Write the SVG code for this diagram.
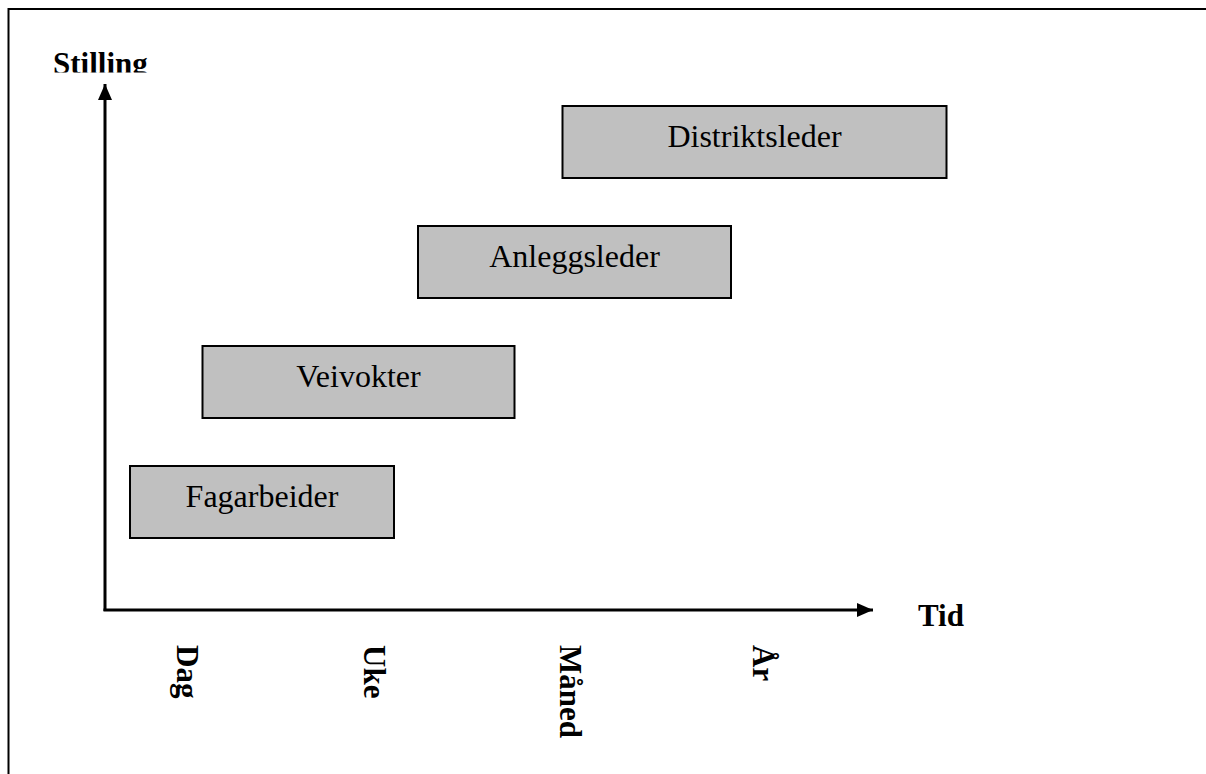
<svg xmlns="http://www.w3.org/2000/svg" width="1206" height="774" viewBox="0 0 1206 774">
  <style>
    .frame { fill: none; stroke: #000; stroke-width: 2; }
    .axis { fill: none; stroke: #000; stroke-width: 3; }
    .box rect { fill: #c0c0c0; stroke: #000; stroke-width: 2; }
    .box text { font-family: "Liberation Serif", "Times New Roman", serif; font-size: 32px; fill: #000; text-anchor: middle; }
    .lbl { font-family: "Liberation Serif", "Times New Roman", serif; font-size: 31px; font-weight: bold; fill: #000; }
  </style>
  <defs>
    <marker id="head" viewBox="0 0 16 14" refX="16" refY="7" markerWidth="16" markerHeight="14" markerUnits="userSpaceOnUse" orient="auto">
      <path d="M0,0 L16,7 L0,14 Z" fill="#000"/>
    </marker>
    <clipPath id="topClip">
      <rect x="0" y="0" width="1206" height="72.5"/>
    </clipPath>
  </defs>

  <rect width="1206" height="774" fill="#fff"/>

  <!-- page frame, open to the right and bottom -->
  <path class="frame" d="M8.5,776 V9 H1208"/>

  <!-- axis titles -->
  <text class="lbl" x="53" y="74" clip-path="url(#topClip)">Stilling</text>
  <text class="lbl" x="918" y="626">Tid</text>

  <!-- time scale labels, rotated -->
  <text class="lbl" transform="translate(177,645) rotate(90)">Dag</text>
  <text class="lbl" transform="translate(364,645) rotate(90)">Uke</text>
  <text class="lbl" transform="translate(560,645) rotate(90)">Måned</text>
  <text class="lbl" transform="translate(753,645) rotate(90)">År</text>

  <!-- axes -->
  <g id="connectors">
    <path class="axis" d="M105,611 V84" marker-end="url(#head)"/>
    <path class="axis" d="M103.5,610 H873" marker-end="url(#head)"/>
  </g>

  <g id="fagarbeider" class="box">
    <rect x="130" y="466" width="264" height="72"/>
    <text x="262" y="507">Fagarbeider</text>
  </g>
  <g id="veivokter" class="box">
    <rect x="202.5" y="346" width="312" height="72"/>
    <text x="358.5" y="387">Veivokter</text>
  </g>
  <g id="anleggsleder" class="box">
    <rect x="418" y="226" width="313" height="72"/>
    <text x="574.5" y="267">Anleggsleder</text>
  </g>
  <g id="distriktsleder" class="box">
    <rect x="562.5" y="106" width="384" height="72"/>
    <text x="754.5" y="147">Distriktsleder</text>
  </g>
</svg>
